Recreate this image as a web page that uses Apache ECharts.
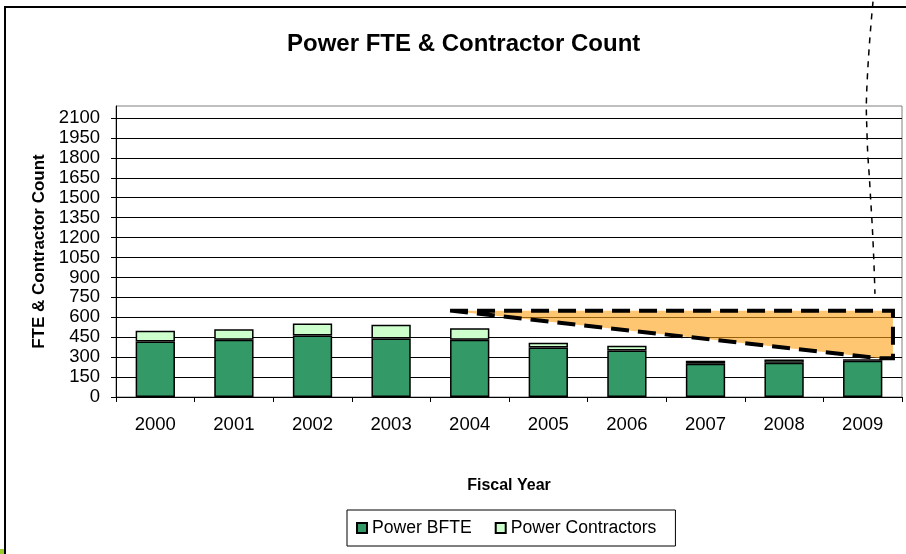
<!DOCTYPE html>
<html>
<head>
<meta charset="utf-8">
<script src="https://cdn.jsdelivr.net/npm/echarts@6/dist/echarts.min.js"></script>
<style>
  html, body { margin: 0; padding: 0; background: #fff; }
  #chart { width: 906px; height: 554px; }
</style>
</head>
<body>
<div id="chart"></div>
<script>
// fiscal years and counts
const years = ['2000', '2001', '2002', '2003', '2004', '2005', '2006', '2007', '2008', '2009'];
const bfte = [418, 430, 463, 440, 430, 373, 350, 250, 258, 272];
const contractors = [80, 80, 90, 103, 88, 35, 35, 23, 25, 12];
const yTicks = [0, 150, 300, 450, 600, 750, 900, 1050, 1200, 1350, 1500, 1650, 1800, 1950, 2100];

// annotation shapes, in [category position, count] units
const wedge = [[4.25, 650], [9.885, 650], [9.885, 292], [9.72, 292]];
const leader = [[9.631, 2975], [9.555, 2353], [9.555, 1976], [9.593, 1571], [9.631, 1174], [9.656, 776]];

const font = 'Liberation Sans, Arial, sans-serif';

let myChart = echarts.init(document.getElementById('chart'));

let option = {
    animation: false,
    textStyle: { fontFamily: font, color: '#000' },
    title: {
        text: 'Power FTE & Contractor Count',
        left: 282,
        top: 27,
        textStyle: { fontFamily: font, fontSize: 24, fontWeight: 'bold', color: '#000' }
    },
    legend: {
        left: 347,
        top: 510,
        padding: [9, 19, 9, 9],
        borderColor: '#000',
        borderWidth: 1,
        itemWidth: 10,
        itemHeight: 10,
        itemGap: 23,
        icon: 'rect',
        textStyle: { fontFamily: font, fontSize: 17.6, color: '#000' },
        data: ['Power BFTE', 'Power Contractors']
    },
    grid: {
        left: 116,
        right: 4,
        top: 106,
        bottom: 157,
        show: true,
        borderColor: '#808080',
        borderWidth: 1,
        containLabel: false,
        outerBoundsMode: 'none'
    },
    xAxis: [{
        type: 'category',
        data: years,
        name: 'Fiscal Year',
        nameLocation: 'middle',
        nameGap: 81,
        nameTextStyle: { fontFamily: font, fontSize: 16, fontWeight: 'bold', color: '#000' },
        axisLine: { lineStyle: { color: '#000', width: 1 } },
        axisTick: { show: true, length: 5, alignWithLabel: false, lineStyle: { color: '#000' } },
        axisLabel: { fontFamily: font, fontSize: 18.5, color: '#000', margin: 18 },
        splitLine: { show: false }
    }, {
        type: 'value',
        min: 0,
        max: 10,
        show: false
    }],
    yAxis: {
        type: 'value',
        min: 0,
        max: 2190,
        interval: 150,
        name: 'FTE & Contractor Count',
        nameLocation: 'middle',
        nameGap: 68,
        nameTextStyle: { fontFamily: font, fontSize: 17, fontWeight: 'bold', color: '#000' },
        axisLine: { show: true, lineStyle: { color: '#000', width: 1 } },
        axisTick: { show: true, length: 5, lineStyle: { color: '#000' }, customValues: yTicks },
        axisLabel: {
            fontFamily: font, fontSize: 18.5, color: '#000', margin: 16,
            customValues: yTicks,
            formatter: v => String(v)
        },
        splitLine: { show: true, lineStyle: { color: '#000', width: 1 } }
    },
    series: [{
        name: 'Power BFTE',
        type: 'bar',
        stack: 'total',
        barWidth: '50%',
        data: bfte,
        itemStyle: { color: '#339966', borderColor: '#000', borderWidth: 1.5 }
    }, {
        name: 'Power Contractors',
        type: 'bar',
        stack: 'total',
        data: contractors,
        itemStyle: { color: '#CCFFCC', borderColor: '#000', borderWidth: 1.5 }
    }, {
        type: 'custom',
        xAxisIndex: 1,
        yAxisIndex: 0,
        clip: false,
        silent: true,
        z: 10,
        data: [[0, 0]],
        renderItem: function (params, api) {
            let wedgePts = wedge.map(p => api.coord(p));
            let leaderPts = leader.map(p => api.coord(p));
            return {
                type: 'group',
                children: [{
                    type: 'polygon',
                    shape: { points: wedgePts },
                    style: {
                        fill: 'rgba(255,160,20,0.6)',
                        stroke: '#000',
                        lineWidth: 4,
                        lineDash: [18, 9]
                    }
                }, {
                    type: 'polyline',
                    shape: { points: leaderPts, smooth: 0.5 },
                    style: {
                        fill: null,
                        stroke: '#000',
                        lineWidth: 1.5,
                        lineDash: [6, 6]
                    }
                }]
            };
        }
    }],
    graphic: [{
        type: 'rect',
        shape: { x: 5, y: 7, width: 1000, height: 1000 },
        style: { fill: null, stroke: '#000', lineWidth: 2 },
        silent: true
    }, {
        type: 'rect',
        shape: { x: 0, y: 549, width: 4, height: 5 },
        style: { fill: '#9ACD32' },
        silent: true
    }]
};
myChart.setOption(option);
</script>
</body>
</html>
